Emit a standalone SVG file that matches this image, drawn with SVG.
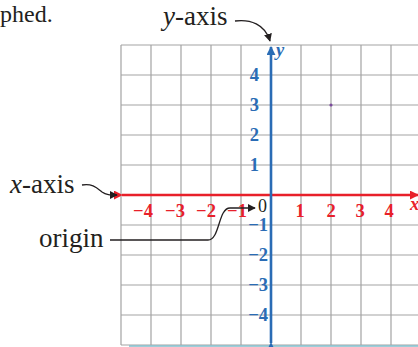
<svg xmlns="http://www.w3.org/2000/svg" width="418" height="347" viewBox="0 0 418 347">
<defs>
<style>
.grid{stroke:#a3a3a3;stroke-width:1.2;fill:none}
.lbl{font-family:"Liberation Serif",serif;font-size:27px;fill:#231f20}
.yn{font-family:"Liberation Serif",serif;font-size:18.5px;font-weight:bold;fill:#2a6cb5}
.xn{font-family:"Liberation Serif",serif;font-size:18.5px;font-weight:bold;fill:#e8202a}
.conn{stroke:#231f20;stroke-width:1.3;fill:none}
</style>
<marker id="ah" viewBox="0 0 10 10" refX="9" refY="5" markerWidth="8" markerHeight="8" markerUnits="userSpaceOnUse" orient="auto"><path d="M0,0 L10,5 L0,10 Z" fill="#231f20"/></marker>
<marker id="ar" viewBox="0 0 10 10" refX="9" refY="5" markerWidth="9" markerHeight="9" markerUnits="userSpaceOnUse" orient="auto"><path d="M0,0 L10,5 L0,10 Z" fill="#e8202a"/></marker>
<marker id="ab" viewBox="0 0 10 10" refX="9" refY="5" markerWidth="9" markerHeight="9" markerUnits="userSpaceOnUse" orient="auto"><path d="M0,0 L10,5 L0,10 Z" fill="#2a6cb5"/></marker>
</defs>
<rect width="418" height="347" fill="#ffffff"/>
<text x="0" y="22" font-family="Liberation Serif,serif" font-size="24" fill="#231f20">phed.</text>
<g id="grid">
<path class="grid" d="M121,45V345M151,45V345M181,45V345M211,45V345M241,45V345M301,45V345M331,45V345M361,45V345M391,45V345M121,45H418M121,75H418M121,105H418M121,135H418M121,165H418M121,225H418M121,255H418M121,285H418M121,315H418M121,345H418"/>
</g>
<line x1="129" y1="346" x2="418" y2="346" stroke="#7fbccb" stroke-width="1.5"/>
<g id="x-axis">
<line x1="122" y1="195" x2="418" y2="195" stroke="#e8202a" stroke-width="2.6" marker-start="url(#ar)" marker-end="url(#ar)"/>
<text class="xn" x="410" y="210" font-style="italic" font-size="16">x</text>
<text class="xn" x="143" y="217" text-anchor="middle">−4</text>
<text class="xn" x="175" y="217" text-anchor="middle">−3</text>
<text class="xn" x="206" y="217" text-anchor="middle">−2</text>
<text class="xn" x="237" y="217" text-anchor="middle">−1</text>
<text class="xn" x="300" y="217" text-anchor="middle">1</text>
<text class="xn" x="331" y="217" text-anchor="middle">2</text>
<text class="xn" x="360" y="217" text-anchor="middle">3</text>
<text class="xn" x="389" y="217" text-anchor="middle">4</text>
</g>
<g id="y-axis">
<line x1="271" y1="343" x2="271" y2="47" stroke="#2a6cb5" stroke-width="2.6" marker-start="url(#ab)" marker-end="url(#ab)"/>
<text class="yn" x="276" y="56" font-style="italic" font-size="16">y</text>
<text class="yn" x="259" y="81" text-anchor="end">4</text>
<text class="yn" x="259" y="111" text-anchor="end">3</text>
<text class="yn" x="259" y="141" text-anchor="end">2</text>
<text class="yn" x="259" y="171" text-anchor="end">1</text>
<text class="yn" x="268" y="231" text-anchor="end">−1</text>
<text class="yn" x="268" y="261" text-anchor="end">−2</text>
<text class="yn" x="268" y="291" text-anchor="end">−3</text>
<text class="yn" x="268" y="321" text-anchor="end">−4</text>
</g>
<g id="point">
<circle cx="331" cy="105" r="1.6" fill="#7a4a9c"/>
</g>
<g id="origin">
<text x="258" y="212" font-family="Liberation Serif,serif" font-size="18" fill="#231f20">0</text>
</g>
<g id="label-y-axis"><text class="lbl" x="163" y="25"><tspan font-style="italic">y</tspan>-axis</text></g>
<g id="label-x-axis"><text class="lbl" x="10" y="193"><tspan font-style="italic">x</tspan>-axis</text></g>
<g id="label-origin"><text class="lbl" x="39" y="247">origin</text></g>
<g id="connectors">
<path class="conn" d="M235,21 C250,19 265,24 270,41" marker-end="url(#ah)"/>
<path class="conn" d="M82,185 C92,183 97,188 102,192 C106,195 110,195 117,195" marker-end="url(#ah)"/>
<path class="conn" d="M110,240 H208 C220,240 218,208 230,208 H255" marker-end="url(#ah)"/>
</g>
</svg>
